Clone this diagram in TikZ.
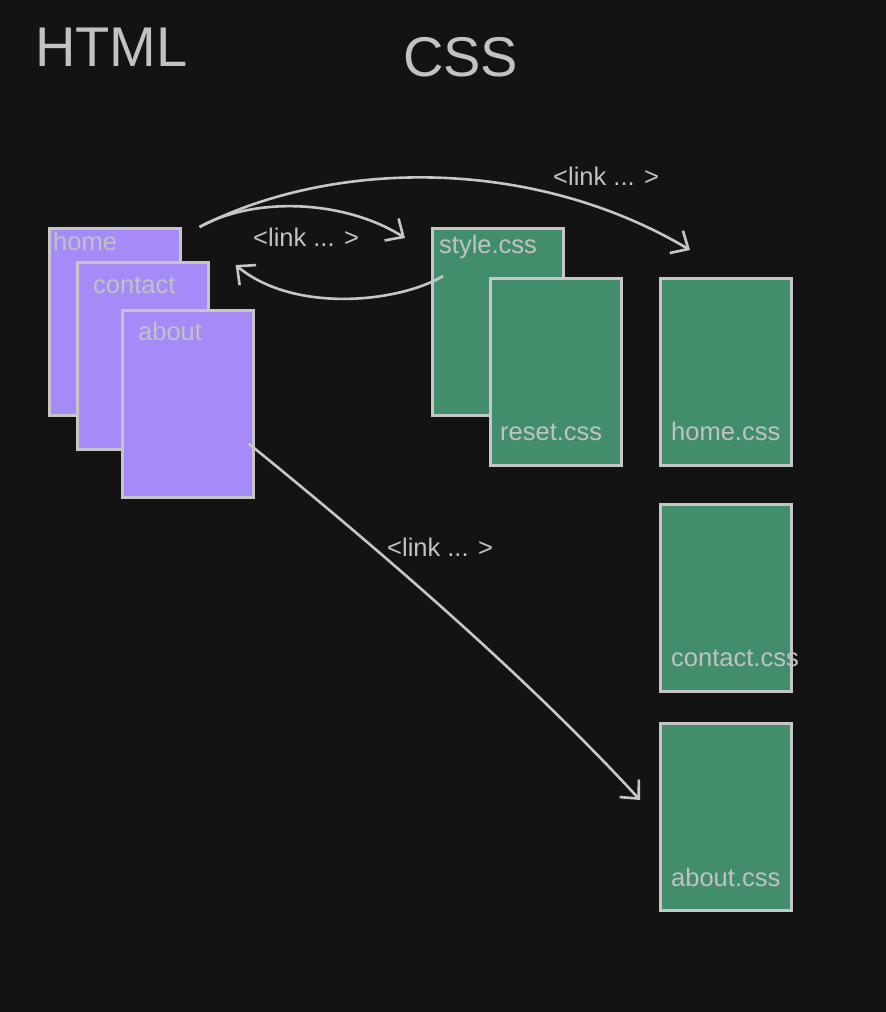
\documentclass[tikz,border=0pt]{standalone}
\usepackage{fontspec}
\setmainfont{Liberation Sans}
\usetikzlibrary{arrows.meta, positioning}
\definecolor{bgdark}{HTML}{131313}
\definecolor{pagepurple}{HTML}{A58AF8}
\definecolor{pagegreen}{HTML}{428E6C}
\definecolor{edgegray}{HTML}{C6C6C8}
\definecolor{textgray}{HTML}{C2C2C4}

\begin{document}
\begin{tikzpicture}[x=1pt, y=-1pt,
  page/.style={draw=edgegray, line width=2.6pt, anchor=north west, inner sep=0pt,
               minimum width=131pt, minimum height=187pt},
  html/.style={page, fill=pagepurple},
  css/.style={page, fill=pagegreen},
  lbl/.style={anchor=base west, inner sep=0pt, text=textgray, font=\fontsize{25.5}{30}\selectfont},
  title/.style={anchor=base west, inner sep=0pt, text=textgray, font=\fontsize{56}{64}\selectfont},
  link/.style={-{Straight Barb[length=14pt, width=26pt, line width=2.6pt]}, draw=edgegray, line width=2.6pt}
]
  \fill[bgdark] (0,0) rectangle (886,1012);
  \useasboundingbox (0,0) rectangle (886,1012);

  \node[title] (thtml) at (35,66) {HTML};
  \node[title] (tcss) at (403,76) {CSS};

  % html pages
  \node[html] (home) at (48,227) {};
  \node[lbl] (lhome) at (53,250) {home};
  \node[html] (contact) at (76,261) {};
  \node[lbl] (lcontact) at (93,293) {contact};
  \node[html] (about) at (121,309) {};
  \node[lbl] (labout) at (138,340) {about};

  % css files
  \node[css] (style) at (431,227) {};
  \node[lbl] (lstyle) at (439,253) {style.css};
  \node[css] (reset) at (489,277) {};
  \node[lbl] (lreset) at (500,440) {reset.css};
  \node[css] (homecss) at (659,277) {};
  \node[lbl] (lhomecss) at (671,440) {home.css};
  \node[css] (contactcss) at (659,503) {};
  \node[lbl] (lcontactcss) at (671,666) {contact.css};
  \node[css] (aboutcss) at (659,722) {};
  \node[lbl] (laboutcss) at (671,886) {about.css};

  % links
  \draw[link] ([xshift=18pt]home.north east) .. controls (330,160) and (530,155) .. ([shift={(31pt,27pt)}]homecss.north west);
  \draw[link] ([xshift=18pt]home.north east) .. controls (255,196) and (345,200) .. ([shift={(-26pt,-11pt)}]style.north west);
  \draw[link] ([shift={(12pt,-49pt)}]style.north west) .. controls (400,302) and (295,314) .. ([shift={(26pt,-4pt)}]contact.north east);
  \draw[link] ([shift={(-6pt,55pt)}]about.south east) .. controls (380,550) and (530,680) .. ([shift={(-19pt,-78pt)}]aboutcss.north west);

  \node[lbl] (lnkstyle) at (253,246) {<link ... >};
  \node[lbl] (lnkhome) at (553,185) {<link ... >};
  \node[lbl] (lnkabout) at (387,556) {<link ... >};
\end{tikzpicture}
\end{document}
